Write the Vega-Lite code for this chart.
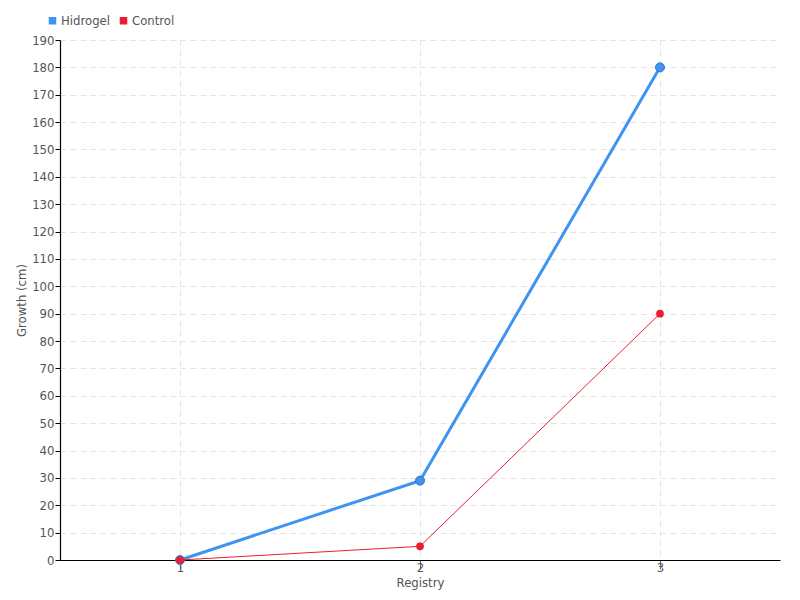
{
  "$schema": "https://vega.github.io/schema/vega-lite/v6.json",
  "autosize": "none",
  "width": 720,
  "height": 520,
  "padding": {"left": 60, "top": 40, "right": 20, "bottom": 40},
  "background": "white",
  "config": {
    "view": {"stroke": null},
    "font": "DejaVu Sans Condensed",
    "axis": {"labelColor": "#555555", "titleColor": "#555555", "labelFontSize": 13, "titleFontSize": 13, "titleFontWeight": "normal", "gridColor": "#e3e3e3", "gridDash": [6, 4], "domainColor": "#000000"},
    "legend": {"labelColor": "#555555", "labelFontSize": 13}
  },
  "data": {
    "values": [
      {"registry": 1, "growth": 0, "series": "Hidrogel"},
      {"registry": 2, "growth": 29, "series": "Hidrogel"},
      {"registry": 3, "growth": 180, "series": "Hidrogel"},
      {"registry": 1, "growth": 0, "series": "Control"},
      {"registry": 2, "growth": 5, "series": "Control"},
      {"registry": 3, "growth": 90, "series": "Control"}
    ]
  },
  "encoding": {
    "x": {"field": "registry", "type": "quantitative", "scale": {"domain": [0.5, 3.5], "nice": false, "zero": false},
      "axis": {"values": [1, 2, 3], "title": "Registry", "titlePadding": 2, "labelPadding": -8, "tickColor": "#666666", "tickSize": 9, "labelFlush": false, "domainWidth": 1.2}},
    "y": {"field": "growth", "type": "quantitative", "scale": {"domain": [0, 190], "nice": false},
      "axis": {"values": [0,10,20,30,40,50,60,70,80,90,100,110,120,130,140,150,160,170,180,190], "title": "Growth (cm)", "titlePadding": 3, "tickColor": "#000000", "tickSize": 5, "labelPadding": 1, "domainWidth": 1.2}},
    "color": {"field": "series", "type": "nominal", "sort": ["Hidrogel", "Control"],
      "scale": {"domain": ["Hidrogel", "Control"], "range": ["#3f94f2", "#ee1c2e"]},
      "legend": {"title": null, "orient": "none", "legendX": -14, "legendY": -26, "direction": "horizontal", "symbolType": "square", "symbolSize": 36, "columnPadding": 6, "labelOffset": 2}}
  },
  "layer": [
    {"transform": [{"filter": "datum.series === 'Hidrogel'"}], "mark": {"type": "line", "strokeWidth": 3}, "encoding": {}},
    {"transform": [{"filter": "datum.series === 'Hidrogel'"}], "mark": {"type": "point", "filled": true, "size": 80, "opacity": 1, "stroke": "#2a6fc8", "strokeWidth": 1}, "encoding": {}},
    {"transform": [{"filter": "datum.series === 'Control'"}], "mark": {"type": "line", "strokeWidth": 1}, "encoding": {}},
    {"transform": [{"filter": "datum.series === 'Control'"}], "mark": {"type": "point", "filled": true, "size": 60, "opacity": 1}, "encoding": {}}
  ]
}
